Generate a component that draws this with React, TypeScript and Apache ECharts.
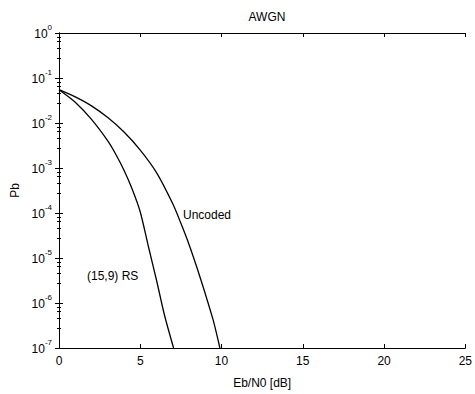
import React, { useEffect, useRef } from "react";
import * as echarts from "echarts";

const uncodedX = [0, 1, 2, 3, 4, 5, 6, 7, 7.5, 8, 8.5, 9, 9.5, 9.9];
const uncodedPb = [0.055, 0.038, 0.024, 0.0132, 6.3e-3, 2.5e-3, 7.9e-4, 1.6e-4, 5.9e-5, 2.0e-5, 5.9e-6, 1.6e-6, 4.0e-7, 1e-7];

const rsX = [0, 1, 2, 3, 3.5, 4, 4.5, 5, 5.5, 6, 6.5, 7.05];
const rsPb = [0.055, 0.029, 0.012, 4.0e-3, 2.0e-3, 8.9e-4, 3.4e-4, 1.05e-4, 1.8e-5, 3.2e-6, 5.2e-7, 1e-7];

const xTicks = [0, 5, 10, 15, 20, 25];
const yMin = 1e-7;
const yMax = 1;

const FONT = "'Liberation Sans', Arial, sans-serif";

export default function App() {
  const ref = useRef<HTMLDivElement>(null);
  useEffect(() => {
    if (!ref.current) return;
    const chart = echarts.init(ref.current, null, { renderer: "svg" });
    const lineColor = "#000";
    const axisCommon = {
      axisLine: { show: true, lineStyle: { color: lineColor, width: 1 } },
      splitLine: { show: false },
    };
    chart.setOption({
      animation: false,
      backgroundColor: "#fff",
      title: {
        text: "AWGN",
        left: 262,
        top: 6,
        textAlign: "center",
        textStyle: { fontFamily: FONT, fontSize: 12, fontWeight: "normal", color: "#000" },
      },
      grid: { left: 59, top: 33, right: 9, bottom: 40 },
      xAxis: [
        {
          type: "value",
          min: xTicks[0],
          max: xTicks[xTicks.length - 1],
          interval: 5,
          ...axisCommon,
          axisTick: { show: true, inside: true, length: 4, lineStyle: { color: lineColor } },
          axisLabel: { fontFamily: FONT, fontSize: 12, color: "#000", margin: 7 },
          name: "Eb/N0 [dB]",
          nameLocation: "middle",
          nameGap: 29,
          nameTextStyle: { fontFamily: FONT, fontSize: 12, color: "#000" },
        },
        {
          type: "value",
          position: "top",
          min: xTicks[0],
          max: xTicks[xTicks.length - 1],
          interval: 5,
          ...axisCommon,
          axisTick: { show: true, inside: true, length: 4, lineStyle: { color: lineColor } },
          axisLabel: { show: false },
        },
      ],
      yAxis: [
        {
          type: "log",
          logBase: 10,
          min: yMin,
          max: yMax,
          ...axisCommon,
          axisTick: { show: true, inside: true, length: 4, lineStyle: { color: lineColor } },
          minorTick: { show: true, splitNumber: 5, length: 2, lineStyle: { color: lineColor } },
          axisLabel: {
            margin: 7,
            formatter: (v: number) => `{b|10}{e|${Math.round(Math.log10(v))}}`,
            rich: {
              b: { fontFamily: FONT, fontSize: 12, color: "#000", verticalAlign: "bottom", lineHeight: 14 },
              e: { fontFamily: FONT, fontSize: 8, color: "#000", verticalAlign: "bottom", lineHeight: 14, padding: [0, 0, 9, 0] },
            },
          },
          name: "Pb",
          nameLocation: "middle",
          nameGap: 34,
          nameTextStyle: { fontFamily: FONT, fontSize: 12, color: "#000" },
        },
        {
          type: "log",
          logBase: 10,
          position: "right",
          min: yMin,
          max: yMax,
          ...axisCommon,
          axisTick: { show: true, inside: true, length: 4, lineStyle: { color: lineColor } },
          minorTick: { show: true, splitNumber: 5, length: 2, lineStyle: { color: lineColor } },
          axisLabel: { show: false },
        },
      ],
      series: [
        {
          name: "Uncoded",
          type: "line",
          data: uncodedX.map((x, i) => [x, uncodedPb[i]]),
          smooth: 0.25,
          showSymbol: false,
          lineStyle: { color: "#000", width: 1.3 },
          xAxisIndex: 0,
          yAxisIndex: 0,
        },
        {
          name: "(15,9) RS",
          type: "line",
          data: rsX.map((x, i) => [x, rsPb[i]]),
          smooth: 0.25,
          showSymbol: false,
          lineStyle: { color: "#000", width: 1.3 },
          xAxisIndex: 0,
          yAxisIndex: 0,
        },
      ],
      graphic: [
        {
          type: "text",
          left: 183,
          top: 209,
          style: { text: "Uncoded", fontFamily: FONT, fontSize: 12, fill: "#000" },
        },
        {
          type: "text",
          left: 87,
          top: 270,
          style: { text: "(15,9) RS", fontFamily: FONT, fontSize: 12, fill: "#000" },
        },
      ],
    });
    return () => chart.dispose();
  }, []);
  return <div ref={ref} style={{ width: 475, height: 394, position: "absolute", left: 0, top: 0 }} />;
}
